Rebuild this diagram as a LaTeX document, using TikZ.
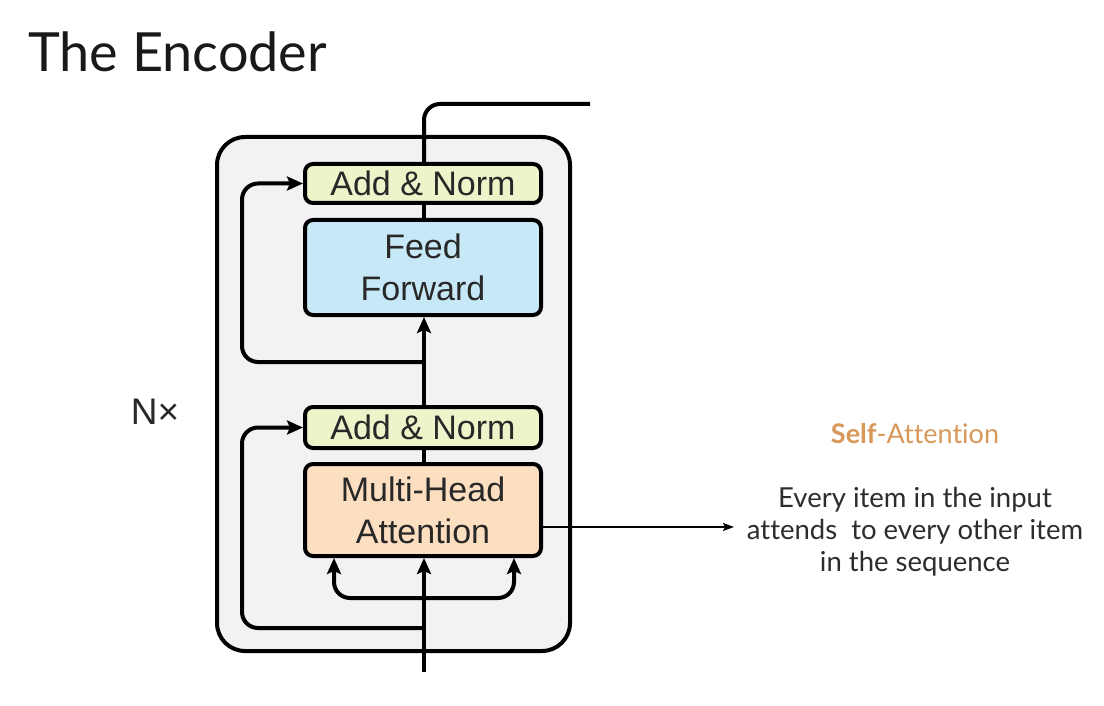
\documentclass[tikz,border=0pt]{standalone}
\usepackage{fontspec}
\setmainfont{Liberation Sans}
\newfontfamily\lato[Ligatures=NoCommon]{Lato}
\usetikzlibrary{arrows.meta}
\definecolor{outerfill}{RGB}{242,242,244}
\definecolor{anfill}{RGB}{238,243,202}
\definecolor{fffill}{RGB}{199,232,246}
\definecolor{mhafill}{RGB}{252,222,192}
\definecolor{saorange}{RGB}{216,152,90}
\definecolor{bodygray}{RGB}{45,45,45}
\definecolor{diagtext}{RGB}{40,40,40}
\begin{document}
\begin{tikzpicture}[x=1pt,y=-1pt,
  blk/.style={draw=black, line width=4pt, rounded corners=8pt, inner sep=0pt,
    minimum width=236pt, align=center, text=diagtext,
    font=\fontsize{34}{42}\selectfont},
  flow/.style={line width=4pt, rounded corners=16pt},
  tip/.style={-{Stealth[length=16pt,width=14pt,inset=3pt]}},
  thinarrow/.style={line width=1.5pt, -{Stealth[length=11pt,width=8pt,inset=2pt]}},
  slide/.style={font=\lato\fontsize{27.5}{33}\selectfont, text=bodygray, inner sep=0pt}
]
\fill[white] (0,0) rectangle (1104,706);
\useasboundingbox (0,0) rectangle (1104,706);

% title
\node[anchor=base west, inner sep=0pt, font=\lato\fontsize{54}{60}\selectfont, text=black!90] (title) at (28,72) {The Encoder};

% outer box
\node[draw=black, line width=4pt, rounded corners=28pt, fill=outerfill,
  minimum width=353pt, minimum height=514pt, inner sep=0pt] (outer) at (393.5,394) {};

% blocks
\node[blk, fill=anfill, minimum height=39pt] (an2) at (423,183.5) {Add \& Norm};
\node[blk, fill=fffill, minimum height=95pt] (ff) at (423,267.5) {Feed\\Forward};
\node[blk, fill=anfill, minimum height=41pt] (an1) at (423,427.5) {Add \& Norm};
\node[blk, fill=mhafill, minimum height=92pt] (mha) at (423,510) {Multi-Head\\Attention};

% N x
\node[inner sep=0pt, text=diagtext, font=\fontsize{37}{40}\selectfont] (nx) at (155,412) {N×};

% coordinates
\coordinate (in) at (424,672);
\coordinate (out) at (590,104);
\coordinate (r2) at (424,362);
\coordinate (r1) at (424,628);
\coordinate (br) at (424,598);
\coordinate (bl) at (334,558);
\coordinate (brr) at (514,558);
\coordinate (lx) at (242,0);

% main flow
\draw[flow, tip] (in) -- (mha.south -| in);
\draw[flow] (mha.north -| in) -- (an1.south -| in);
\draw[flow, tip] (an1.north -| in) -- (ff.south -| in);
\draw[flow] (ff.north -| in) -- (an2.south -| in);
\draw[flow] (an2.north -| in) |- (out);

% residuals
\draw[flow, tip] (r2) -| (lx |- an2.west) -- (an2.west);
\draw[flow, tip] (r1) -| (lx |- an1.west) -- (an1.west);

% attention branches
\draw[flow, tip] (br) -| (bl);
\draw[flow, tip] (br) -| (brr);

% self-attention annotation
\coordinate (sa) at (734,527);
\draw[thinarrow] (mha.east |- sa) -- (sa);

\node[slide, anchor=base, text=saorange, font=\lato\fontsize{27}{30}\selectfont] (sat) at (915,443) {\textbf{Self}-Attention};
\node[slide, anchor=base] (l1) at (915,507) {Every item in the input};
\node[slide, anchor=base] (l2) at (915,539) {attends\ \ to every other item};
\node[slide, anchor=base] (l3) at (915,571) {in the sequence};
\end{tikzpicture}
\end{document}
